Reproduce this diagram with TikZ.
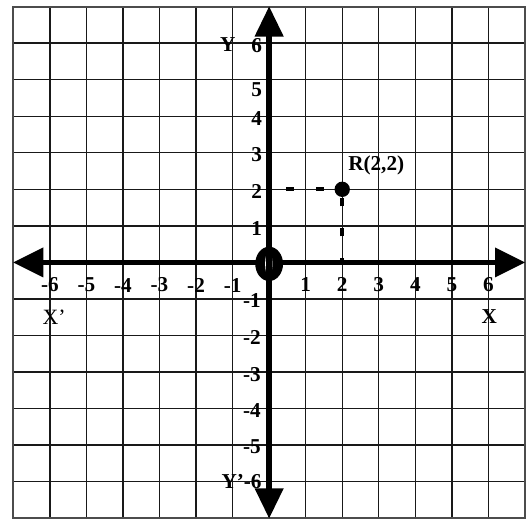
\documentclass[tikz,border=0pt]{standalone}
\usepackage{fontspec}
\setmainfont{Liberation Serif}
\begin{document}
\begin{tikzpicture}[x=1cm,y=1cm,
  gridline/.style={line width=1.1pt, draw=black!90},
  frameline/.style={line width=1.6pt, draw=black!70},
  axisline/.style={line width=4.2pt, draw=black},
  axistip/.style={fill=black},
  ticklab/.style={font=\fontsize{16.5}{16.5}\selectfont\bfseries, inner sep=0pt},
  namelab/.style={font=\fontsize{16.5}{16.5}\selectfont\bfseries, inner sep=0pt},
  dashline/.style={line width=3pt, dash pattern=on 0.22cm off 0.6cm},
  ptdot/.style={circle, fill=black, minimum size=0.42cm, inner sep=0pt}]
\useasboundingbox (-7.364,-7.055) rectangle (7.11,7.18);
% grid
\draw[gridline] (-7,-7) grid (7,7);
\draw[frameline] (-7,-7) rectangle (7,7);
% named points
\coordinate (xl) at (-7,0);
\coordinate (xr) at (7,0);
\coordinate (yt) at (0,7);
\coordinate (yb) at (0,-7);
\coordinate (y2) at (0,2);
\coordinate (x2) at (2,0);
\node[ptdot] (R) at (2,2) {};
% x axis
\draw[axisline] (-6.3,0) -- (6.3,0);
\fill[axistip] (xr) -- (6.18,0.41) -- (6.18,-0.41) -- cycle;
\fill[axistip] (xl) -- (-6.18,0.41) -- (-6.18,-0.41) -- cycle;
% origin 0
\fill (0,-0.04) ellipse [x radius=0.38, y radius=0.47];
\fill[white] (-0.01,-0.04) ellipse [x radius=0.1, y radius=0.34];
% y axis
\draw[axisline] (0,-6.3) -- (0,6.3);
\fill[axistip] (yt) -- (-0.4,6.18) -- (0.4,6.18) -- cycle;
\fill[axistip] (yb) -- (-0.4,-6.18) -- (0.4,-6.18) -- cycle;
% dashed projections
\draw[dashline, dash phase=0.355cm] (y2) -- (R);
\draw[dashline, dash phase=0.11cm] (x2) -- (R);
% x tick labels
\foreach \k in {1,...,6} \node[ticklab] (xp\k) at (\k,-0.6) {\k};
\foreach \k in {1,...,6} \node[ticklab] (xn\k) at (-\k,-0.62) {-\k};
% y tick labels
\foreach \k/\yy in {1/0.94,2/1.94,3/2.94,4/3.94,5/4.72,6/5.93}
  \node[ticklab, anchor=east] (yp\k) at (-0.19,\yy) {\k};
\foreach \k/\yy in {1/-1.03,2/-2.05,3/-3.07,4/-4.06,5/-5.04}
  \node[ticklab, anchor=east] (yn\k) at (-0.22,\yy) {-\k};
\node[ticklab, anchor=east] (yn6) at (-0.2,-6.0) {Y'-6};
% axis names
\node[ticklab] (ylab) at (-1.135,5.95) {Y};
\node[ticklab] (xlab) at (6.02,-1.48) {X};
\node[font=\fontsize{17}{17}\selectfont, inner sep=0pt] (xplab) at (-5.88,-1.49) {X’};
% point label
\node[namelab] (Rlab) at (2.93,2.65) {R(2,2)};
\end{tikzpicture}
\end{document}
